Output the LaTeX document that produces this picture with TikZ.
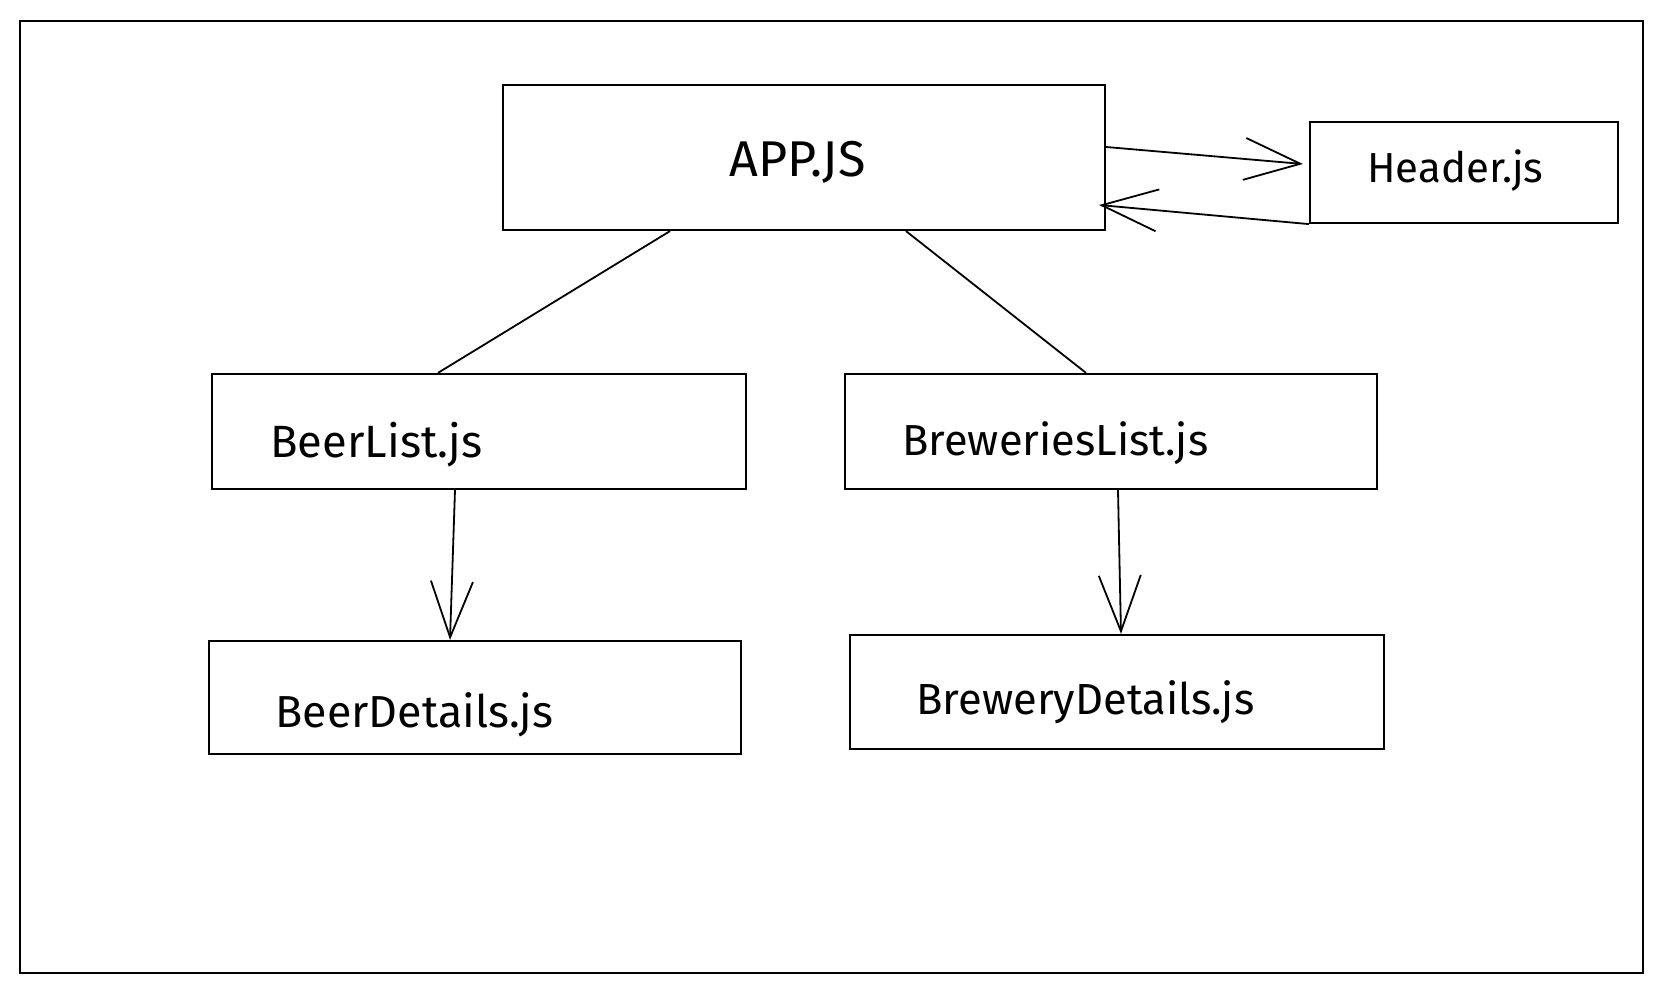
\documentclass[tikz,border=0pt]{standalone}
\usepackage{fontspec}
\setmainfont{Fira Sans}
\usetikzlibrary{arrows.meta}
\newcommand\fitlabel[2]{\resizebox{#1}{!}{#2}}
\begin{document}
\begin{tikzpicture}[x=0.5pt,y=-0.5pt,
  box/.style={draw,line width=1.1pt,rectangle,inner sep=0pt},
  lbl/.style={anchor=base west,inner sep=0pt},
  link/.style={line width=0.9pt},
  flow/.style={line width=0.9pt,-{Straight Barb[length=28pt,width=21pt,line width=0.9pt]}}]
  \useasboundingbox (0,0) rectangle (1662,994);
  % outer frame
  \draw[line width=1.3pt] (20,21) rectangle (1643,973);

  % component boxes
  \node[box,minimum width=301pt,minimum height=72.5pt] (app) at (804,157.5) {};
  \node[box,minimum width=154pt,minimum height=50.5pt] (header) at (1464,172.5) {};
  \node[box,minimum width=267pt,minimum height=57.5pt] (beerlist) at (479,431.5) {};
  \node[box,minimum width=266pt,minimum height=57.5pt] (brewlist) at (1111,431.5) {};
  \node[box,minimum width=266pt,minimum height=56.5pt] (beerdet) at (475,697.5) {};
  \node[box,minimum width=267pt,minimum height=57pt] (brewdet) at (1117,692) {};

  % labels
  \node[lbl] (tapp) at (729,177) {\fitlabel{68pt}{APP.JS}};
  \node[lbl] (theader) at (1367,183) {\fitlabel{88pt}{Header.js}};
  \node[lbl] (tbeerlist) at (270,458) {\fitlabel{106pt}{BeerList.js}};
  \node[lbl] (tbrewlist) at (902,456) {\fitlabel{153pt}{BreweriesList.js}};
  \node[lbl] (tbeerdet) at (275,728) {\fitlabel{139pt}{BeerDetails.js}};
  \node[lbl] (tbrewdet) at (916,715) {\fitlabel{169pt}{BreweryDetails.js}};

  % connectors
  \draw[link] ([xshift=-67pt]app.south) -- ([xshift=-20.5pt]beerlist.north);
  \draw[link] ([xshift=51pt]app.south) -- ([xshift=-12.5pt]brewlist.north);
  \draw[flow] ([yshift=5.25pt]app.east) -- ([xshift=-3pt,yshift=4.25pt]header.west);
  \draw[flow] (header.south west) -- ([xshift=-3.5pt,yshift=-23.75pt]app.east);
  \draw[flow] ([xshift=-12pt]beerlist.south) -- ([xshift=-12.5pt]beerdet.north);
  \draw[flow] ([xshift=3.5pt]brewlist.south) -- ([xshift=2pt]brewdet.north);
\end{tikzpicture}
\end{document}
